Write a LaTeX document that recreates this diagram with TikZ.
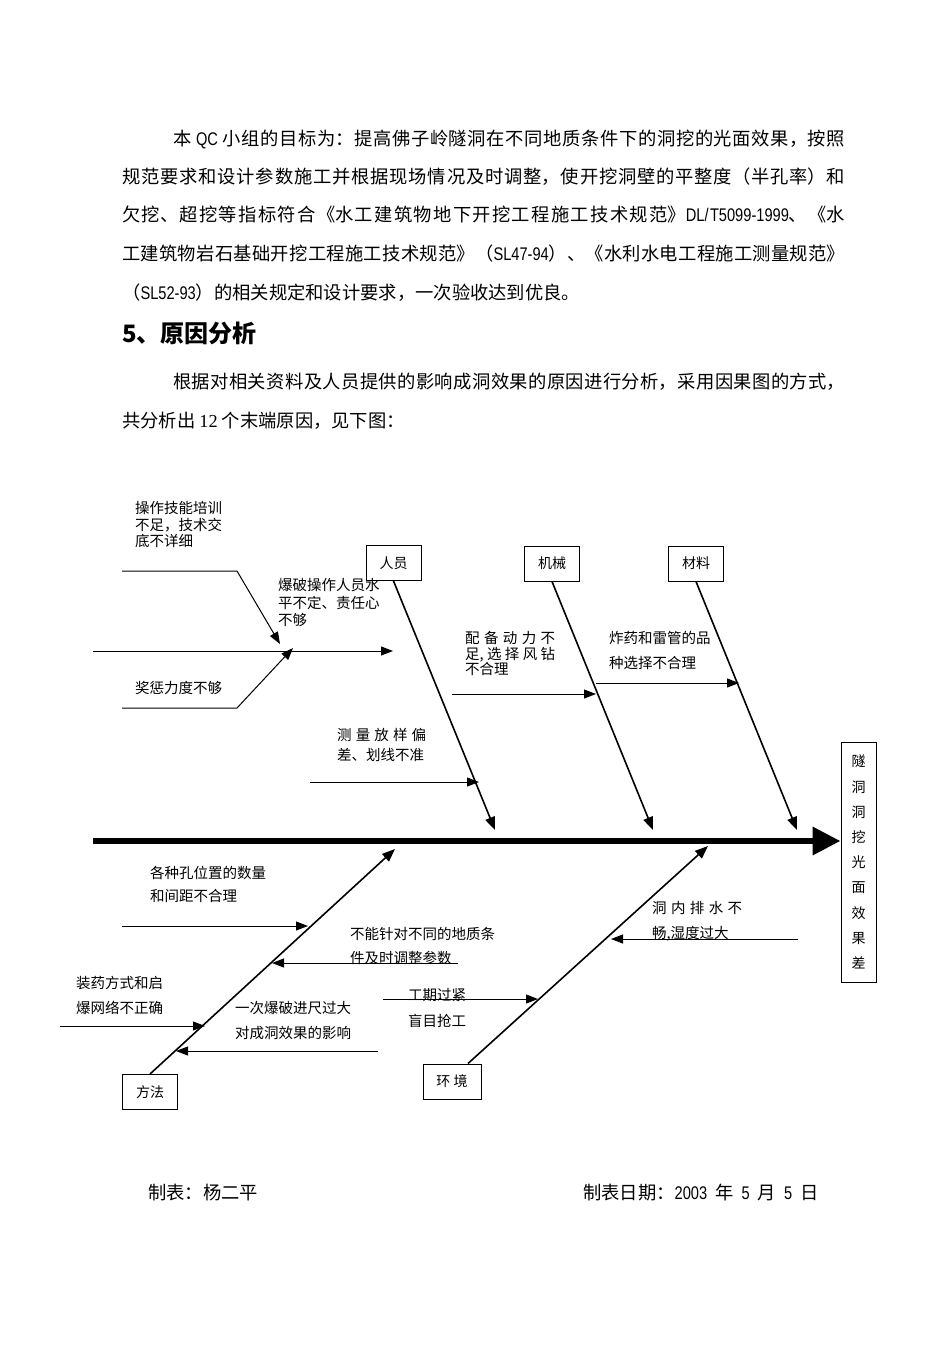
\documentclass[tikz,border=0pt]{standalone}
\usepackage{fontspec}
\setmainfont{Noto Sans CJK SC}
\newfontfamily\narrowfont[FakeStretch=0.8]{Liberation Sans}
\newfontfamily\serifdigits{Liberation Serif}
\usetikzlibrary{arrows.meta, positioning}
\XeTeXlinebreaklocale "zh"
\XeTeXlinebreakskip=0pt plus 3pt
\tolerance=9999
\hbadness=10000
\newcommand{\justend}{\parfillskip=0pt\relax\par}

\begin{document}
\begin{tikzpicture}[x=1pt, y=-1pt,
	catbox/.style={draw, line width=1pt, minimum width=55pt, minimum height=35pt, inner sep=0pt, font=\fontsize{14}{16}\selectfont},
	cause/.style={anchor=north west, inner sep=0pt, align=left, font=\fontsize{14.5}{#1}\selectfont},
	causej/.style 2 args={anchor=north west, inner sep=0pt, text width=#1, align=justify, font=\fontsize{14.5}{#2}\selectfont},
	bone/.style={line width=1.6pt, -{Triangle[length=13pt, width=10pt]}},
	twig/.style={line width=1pt, -{Triangle[length=12pt, width=9pt]}},
	spine/.style={line width=6.5pt, -{Triangle[length=28pt, width=27pt]}},
	bodyline/.style={anchor=base west, inner sep=0pt, text width=#1, align=justify, font=\fontsize{18.3}{38.5}\selectfont},
	bodytext/.style={anchor=base west, inner sep=0pt, font=\fontsize{18.3}{38.5}\selectfont}]
	\useasboundingbox (0,0) rectangle (950,1345);
	\fill[white] (0,0) rectangle (950,1345);

	% Text above the chart:
	\node[bodyline=672pt] (goal1) at (173,145) {本 {\narrowfont QC} 小组的目标为：提高佛子岭隧洞在不同地质条件下的洞挖的光面效果，按照\justend};
	\node[bodyline=723pt] (goal2) at (122,183) {规范要求和设计参数施工并根据现场情况及时调整，使开挖洞壁的平整度（半孔率）和\justend};
	\node[bodyline=723pt] (goal3) at (122,221) {欠挖、超挖等指标符合《水工建筑物地下开挖工程施工技术规范》{\narrowfont DL/T5099-1999}、《水\justend};
	\node[bodyline=723pt] (goal4) at (122,260) {工建筑物岩石基础开挖工程施工技术规范》（{\narrowfont SL47-94}）、《水利水电工程施工测量规范》\justend};
	\node[bodytext] (goal5) at (122,299) {（{\narrowfont SL52-93}）的相关规定和设计要求，一次验收达到优良。};
	\node[anchor=base west, inner sep=0pt, font=\fontsize{24}{28}\selectfont\bfseries] (sec5) at (122,342) {5、原因分析};
	\node[bodyline=672pt] (intro1) at (173,388) {根据对相关资料及人员提供的影响成洞效果的原因进行分析，采用因果图的方式，\justend};
	\node[bodytext] (intro2) at (122,427) {共分析出 {\serifdigits 12} 个末端原因，见下图：};

	% Spine and effect:
	\node[draw, line width=1pt, minimum width=35pt, minimum height=240pt, inner sep=0pt, align=center, font=\fontsize{14}{25.2}\selectfont] (effect) at (858.5,862) {隧\\洞\\洞\\挖\\光\\面\\效\\果\\差};
	\coordinate (tail) at (93,841);
	\draw[spine] (tail) -- (tail -| effect.west);

	% Main bones:
	\node[catbox] (ry) at (393.5,563) {人员};
	\node[catbox] (jx) at (552,563.5) {机械};
	\node[catbox] (cl) at (696,563.5) {材料};
	\node[catbox] (ff) at (150,1092) {方法};
	\node[catbox, minimum width=58pt] (hj) at (452,1081.5) {环 境};
	\coordinate (ry-t) at (495,830);
	\coordinate (jx-t) at (653,830);
	\coordinate (cl-t) at (797,830);
	\coordinate (ff-t) at (395,849);
	\coordinate (hj-t) at (708,846);
	\draw[bone] (ry.south) -- (ry-t);
	\draw[bone] (jx.south) -- (jx-t);
	\draw[bone] (cl.south) -- (cl-t);
	\draw[bone] (ff.north) -- (ff-t);
	\draw[bone] ([xshift=16pt]hj.north) -- (hj-t);

	% Causes of 人员
	\coordinate (a0) at (93,651);
	\coordinate (a1) at (393,651);
	\coordinate (b0) at (122,571);
	\coordinate (b1) at (237,571);
	\coordinate (b2) at (280,644);
	\coordinate (c0) at (122,708);
	\coordinate (c1) at (237,708);
	\coordinate (c2) at (293,648);
	\coordinate (d0) at (310,782);
	\coordinate (d1) at (479,782);
	\draw[twig] (a0) -- (a1);
	\draw[twig] (b0) -- (b1) -- (b2);
	\draw[twig] (c0) -- (c1) -- (c2);
	\draw[twig] (d0) -- (d1);
	\node[cause=16.5] (l-train) at (135,501.5) {操作技能培训\\不足，技术交\\底不详细};
	\node[cause=17.5] (l-blast) at (278,578.5) {爆破操作人员水\\平不定、责任心\\不够};
	\node[cause=16] (l-reward) at (135,681.5) {奖惩力度不够};
	\node[causej={89pt}{20}] (l-survey) at (337,728.5) {测量放样偏\linebreak 差、划线不准};

	% Causes of 机械 and 材料
	\coordinate (e0) at (452,694);
	\coordinate (e1) at (596,694);
	\coordinate (f0) at (596,683);
	\coordinate (f1) at (739,683);
	\draw[twig] (e0) -- (e1);
	\draw[twig] (f0) -- (f1);
	\node[causej={90pt}{15.5}] (l-power) at (465,631.5) {配备动力不\linebreak 足,选择风钻\linebreak 不合理};
	\node[cause=25] (l-expl) at (609,631.5) {炸药和雷管的品\\种选择不合理};

	% Causes of 方法
	\coordinate (g0) at (122,926);
	\coordinate (g1) at (308,926);
	\coordinate (h0) at (458,963);
	\coordinate (h1) at (272,963);
	\coordinate (i0) at (60,1026);
	\coordinate (i1) at (205,1026);
	\coordinate (j0) at (378,1051);
	\coordinate (j1) at (176,1051);
	\draw[twig] (g0) -- (g1);
	\draw[twig] (h0) -- (h1);
	\draw[twig] (i0) -- (i1);
	\draw[twig] (j0) -- (j1);
	\node[cause=23] (l-holes) at (150,865.5) {各种孔位置的数量\\和间距不合理};
	\node[cause=24] (l-geo) at (350,927.5) {不能针对不同的地质条\\件及时调整参数};
	\node[cause=25] (l-charge) at (76,976.5) {装药方式和启\\爆网络不正确};
	\node[cause=25] (l-advance) at (235,1001.5) {一次爆破进尺过大\\对成洞效果的影响};

	% Causes of 环境
	\coordinate (k0) at (798,939);
	\coordinate (k1) at (611,939);
	\coordinate (m0) at (383,999);
	\coordinate (m1) at (538,999);
	\draw[twig] (k0) -- (k1);
	\draw[twig] (m0) -- (m1);
	\node[causej={90pt}{25}] (l-drain) at (652,901.5) {洞内排水不\linebreak 畅,湿度过大};
	\node[cause=26] (l-rush) at (408,988.5) {工期过紧\\盲目抢工};

	% Footer
	\node[bodytext] (maker) at (148,1199) {制表：杨二平};
	\node[bodytext] (date) at (583,1199) {制表日期：{\narrowfont 2003}\hspace{8pt}年\hspace{8pt}{\narrowfont 5}\hspace{8pt}月\hspace{8pt}{\narrowfont 5}\hspace{8pt}日};
\end{tikzpicture}
\end{document}
